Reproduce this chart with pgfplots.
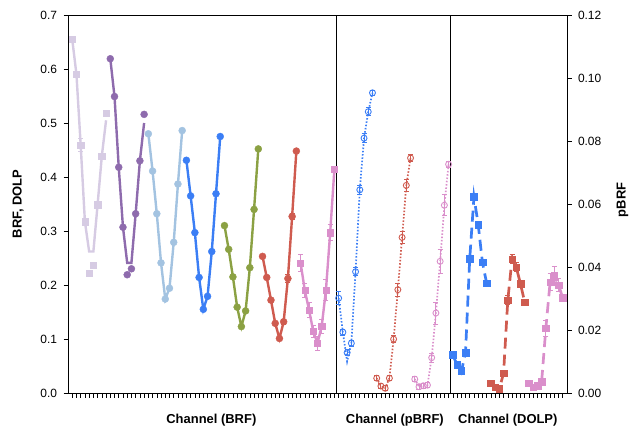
\documentclass[border=0pt]{standalone}
\usepackage{pgfplots}
\pgfplotsset{compat=1.18}
\usepackage{fontspec}
\setmainfont{Liberation Sans}
\definecolor{lav}{HTML}{D6CBE3}
\definecolor{purp}{HTML}{8E6BAD}
\definecolor{lblue}{HTML}{A3C3E1}
\definecolor{bluec}{HTML}{3B7EF5}
\definecolor{greenc}{HTML}{8BA143}
\definecolor{redc}{HTML}{CF5B4F}
\definecolor{pinkc}{HTML}{DA8FCB}
\begin{document}
\begin{tikzpicture}
\pgfplotsset{
  base/.style={scale only axis, width=499bp, height=378bp, xmin=-1, xmax=117, clip=false,
    tick label style={font=\fontsize{12}{13}\selectfont},
    /pgf/number format/assume math mode=true,
    tick align=outside, major tick length=4.5bp,
    yticklabel shift=3bp,
    axis line style={line width=0.8bp},
    every tick/.style={black, line width=0.7bp}},
  brf/.style={line width=2.4bp, mark options={solid, line width=0.4bp}},
  eb/.style={error bars/.cd, y dir=both, y explicit,
    error bar style={line width=0.9bp},
    error mark options={rotate=90, mark size=2.5bp, line width=0.9bp}},
  dolp/.style={line width=2.7bp, dash pattern=on 11bp off 6bp},
  pbrf/.style={line width=1.7bp, dash pattern=on 1.5bp off 1.8bp},
}
\begin{axis}[base, name=ax, ymin=0, ymax=0.7,
  ytick={0,0.1,0.2,0.3,0.4,0.5,0.6,0.7}, ytick pos=left,
  yticklabel style={/pgf/number format/.cd, fixed, fixed zerofill, precision=1},
  xtick={0,...,116}, xticklabels={}, xtick pos=bottom,
  x tick style={line width=0.6bp}]
% dividers
\addplot[black, line width=0.7bp] coordinates {(62.5,0) (62.5,0.7)};
\addplot[black, line width=0.7bp] coordinates {(89.5,0) (89.5,0.7)};
% BRF lavender
\addplot[lav, brf] coordinates {(0,0.655)(1,0.590)(2,0.459)(3,0.317)(4,0.262)(5,0.262)(6,0.349)(7,0.439)(8,0.505)};
\addplot[lav, only marks, mark=square*, mark size=3.2bp, eb] coordinates {(0,0.655) +- (0,0) (1,0.590) +- (0,0) (2,0.459) +- (0,0.012) (3,0.317) +- (0,0) (4,0.222) +- (0,0) (5,0.237) +- (0,0) (6,0.349) +- (0,0) (7,0.439) +- (0,0) (8,0.518) +- (0,0)};
% BRF purple
\addplot[purp, brf] coordinates {(9,0.619)(10,0.549)(11,0.418)(12,0.307)(13,0.241)(14,0.241)(15,0.332)(16,0.430)(17,0.500)};
\addplot[purp, only marks, mark=*, mark size=3.5bp] coordinates {(9,0.619)(10,0.549)(11,0.418)(12,0.307)(13,0.219)(14,0.230)(15,0.332)(16,0.430)(17,0.516)};
% BRF light blue
\addplot[lblue, brf, mark=*, mark size=3.5bp] coordinates {(18,0.480)(19,0.411)(20,0.332)(21,0.241)(22,0.174)(23,0.194)(24,0.279)(25,0.387)(26,0.486)};
% BRF blue
\addplot[bluec, brf, mark=*, mark size=3.5bp] coordinates {(27,0.431)(28,0.365)(29,0.297)(30,0.214)(31,0.155)(32,0.179)(33,0.262)(34,0.369)(35,0.475)};
% BRF green
\addplot[greenc, brf, mark=*, mark size=3.5bp] coordinates {(36,0.310)(37,0.266)(38,0.215)(39,0.159)(40,0.123)(41,0.152)(42,0.232)(43,0.340)(44,0.452)};
% BRF red
\addplot[redc, brf, mark=*, mark size=3.5bp, eb] coordinates {(45,0.253) +- (0,0.003) (46,0.214) +- (0,0.003) (47,0.172) +- (0,0.003) (48,0.129) +- (0,0.004) (49,0.101) +- (0,0.004) (50,0.132) +- (0,0.005) (51,0.212) +- (0,0.007) (52,0.327) +- (0,0.005) (53,0.448) +- (0,0.003)};
% BRF pink
\addplot[pinkc, brf, mark=square*, mark size=3.1bp, eb] coordinates {(54,0.241) +- (0,0.016) (55,0.190) +- (0,0.013) (56,0.154) +- (0,0.014) (57,0.114) +- (0,0.012) (58,0.092) +- (0,0.013) (59,0.124) +- (0,0.013) (60,0.191) +- (0,0.020) (61,0.297) +- (0,0.015) (62,0.415) +- (0,0.004)};
% DOLP blue
\addplot[bluec, dolp] coordinates {(90,0.0706)(91,0.052)(92,0.039)(93,0.075)(94,0.249)(95,0.363)(96,0.312)(97,0.242)(98,0.203)};
\addplot[bluec, only marks, mark=square*, mark size=3.3bp, eb] coordinates {(90,0.0706) +- (0,0.004) (91,0.052) +- (0,0.004) (92,0.041) +- (0,0.004) (93,0.075) +- (0,0.004) (94,0.249) +- (0,0.006) (95,0.363) +- (0,0.006) (96,0.312) +- (0,0.005) (97,0.242) +- (0,0.005) (98,0.203) +- (0,0.004)};
% DOLP red
\addplot[redc, dolp] coordinates {(99,0.018)(100,0.0106)(101,0.008)(102,0.0366)(103,0.172)(104,0.248)(105,0.233)(106,0.202)(107,0.168)};
\addplot[redc, only marks, mark=square*, mark size=3.3bp, eb] coordinates {(99,0.018) +- (0,0.003) (100,0.0106) +- (0,0.003) (101,0.008) +- (0,0.003) (102,0.0366) +- (0,0.004) (103,0.172) +- (0,0.008) (104,0.248) +- (0,0.009) (105,0.233) +- (0,0.008) (106,0.202) +- (0,0.006) (107,0.168) +- (0,0.004)};
% DOLP pink
\addplot[pinkc, dolp] coordinates {(108,0.018)(109,0.0106)(110,0.013)(111,0.021)(112,0.120)(113,0.205)(114,0.217)(115,0.200)(116,0.176)};
\addplot[pinkc, only marks, mark=square*, mark size=3.3bp, eb] coordinates {(108,0.018) +- (0,0.003) (109,0.0106) +- (0,0.003) (110,0.013) +- (0,0.003) (111,0.021) +- (0,0.005) (112,0.120) +- (0,0.015) (113,0.205) +- (0,0.016) (114,0.217) +- (0,0.017) (115,0.200) +- (0,0.012) (116,0.176) +- (0,0.006)};
% labels
\node[font=\bfseries\fontsize{13}{15}\selectfont] at (axis cs:32.9,0) [yshift=-27bp] {Channel (BRF)};
\node[font=\bfseries\fontsize{13}{15}\selectfont] at (axis cs:76.3,0) [yshift=-27bp] {Channel (pBRF)};
\node[font=\bfseries\fontsize{13}{15}\selectfont] at (axis cs:103,0) [yshift=-27bp] {Channel (DOLP)};
\end{axis}
\begin{axis}[base, ymin=0, ymax=0.12, axis y line*=right, axis x line=none,
  ytick={0,0.02,0.04,0.06,0.08,0.10,0.12},
  yticklabel style={/pgf/number format/.cd, fixed, fixed zerofill, precision=2}]
% pBRF blue
\addplot[bluec, pbrf] coordinates {(63,0.0301)(64,0.0193)(65,0.0100)(66,0.0158)(67,0.0385)(68,0.0645)(69,0.0809)(70,0.0893)(71,0.0953)};
\addplot[bluec, only marks, mark=o, mark size=3bp, mark options={line width=0.9bp, solid}, eb] coordinates {(63,0.0301) +- (0,0.0020) (64,0.0193) +- (0,0.0010) (65,0.0128) +- (0,0.0010) (66,0.0158) +- (0,0.0010) (67,0.0385) +- (0,0.0012) (68,0.0645) +- (0,0.0015) (69,0.0809) +- (0,0.0015) (70,0.0893) +- (0,0.0012) (71,0.0953) +- (0,0.0008)};
\addplot[bluec, only marks, mark=|, mark size=3bp, mark options={line width=0.9bp}] coordinates {(63,0.0301)(64,0.0193)(65,0.0128)(66,0.0158)(67,0.0385)(68,0.0645)(69,0.0809)(70,0.0893)(71,0.0953)};
% pBRF red
\addplot[redc, pbrf] coordinates {(72,0.0047)(73,0.0022)(74,0.0015)(75,0.0047)(76,0.0171)(77,0.0328)(78,0.0494)(79,0.0659)(80,0.0746)};
\addplot[redc, only marks, mark=o, mark size=3bp, mark options={line width=0.9bp, solid}, eb] coordinates {(72,0.0047) +- (0,0.0008) (73,0.0022) +- (0,0.0008) (74,0.0015) +- (0,0.0008) (75,0.0047) +- (0,0.0008) (76,0.0171) +- (0,0.0012) (77,0.0328) +- (0,0.0020) (78,0.0494) +- (0,0.0020) (79,0.0659) +- (0,0.0020) (80,0.0746) +- (0,0.0012)};
\addplot[redc, only marks, mark=|, mark size=3bp, mark options={line width=0.9bp}] coordinates {(72,0.0047)(73,0.0022)(74,0.0015)(75,0.0047)(76,0.0171)(77,0.0328)(78,0.0494)(79,0.0659)(80,0.0746)};
% pBRF pink
\addplot[pinkc, pbrf] coordinates {(81,0.0044)(82,0.0020)(83,0.0023)(84,0.0025)(85,0.0112)(86,0.0254)(87,0.0418)(88,0.0596)(89,0.0726)};
\addplot[pinkc, only marks, mark=o, mark size=3bp, mark options={line width=0.9bp, solid}, eb] coordinates {(81,0.0044) +- (0,0.0008) (82,0.0020) +- (0,0.0008) (83,0.0023) +- (0,0.0008) (84,0.0025) +- (0,0.0008) (85,0.0112) +- (0,0.0015) (86,0.0254) +- (0,0.0035) (87,0.0418) +- (0,0.0037) (88,0.0596) +- (0,0.0033) (89,0.0726) +- (0,0.0010)};
\addplot[pinkc, only marks, mark=|, mark size=3bp, mark options={line width=0.9bp}] coordinates {(81,0.0044)(82,0.0020)(83,0.0023)(84,0.0025)(85,0.0112)(86,0.0254)(87,0.0418)(88,0.0596)(89,0.0726)};
\end{axis}
\node[rotate=90, font=\bfseries\fontsize{13}{15}\selectfont] at ([xshift=-50bp]ax.west) {BRF, DOLP};
\node[rotate=90, font=\bfseries\fontsize{13}{15}\selectfont] at ([xshift=55.5bp, yshift=4bp]ax.east) {pBRF};
\pgfresetboundingbox
\path ([shift={(-68bp,-38bp)}]ax.south west) rectangle ([shift={(63bp,15bp)}]ax.north east);
\end{tikzpicture}
\end{document}
